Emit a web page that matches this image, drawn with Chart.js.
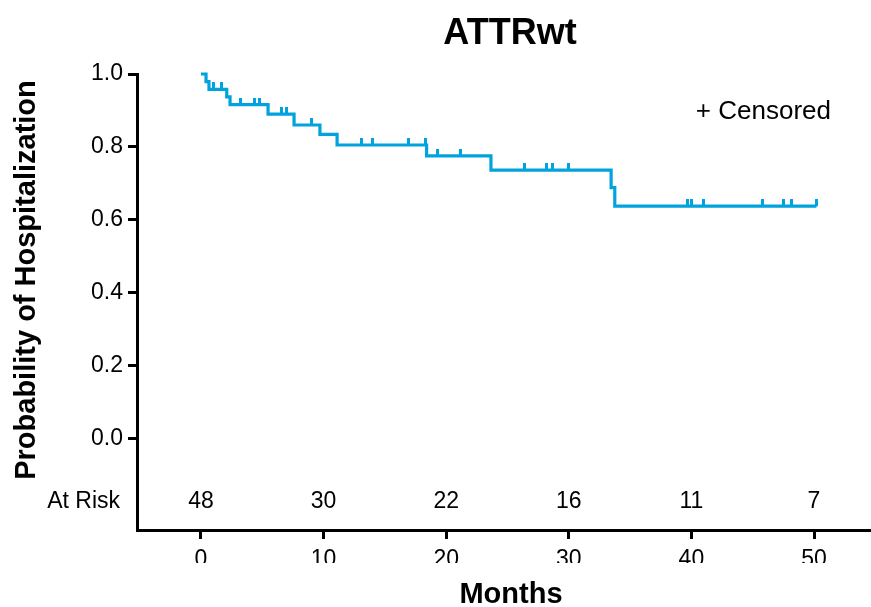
<!DOCTYPE html>
<html>
<head>
<meta charset="utf-8">
<script src="https://cdn.jsdelivr.net/npm/chart.js@4/dist/chart.umd.min.js"></script>
<style>
html,body{margin:0;padding:0;background:#fff;}
#wrap{width:871px;height:607px;position:relative;}
</style>
</head>
<body>
<div id="wrap"><canvas id="c" width="871" height="607"></canvas></div>
<script>
// ---- Data ----
const chartTitle     = 'ATTRwt';
const xAxisTitle     = 'Months';
const yAxisTitle     = 'Probability of Hospitalization';
const eventTimes     = [0, 0.41, 0.65, 2.1, 2.37, 5.47, 7.59, 9.7, 11.1, 18.4, 23.65, 33.45, 33.75];
const survivalValues = [1.0, 0.979, 0.958, 0.937, 0.916, 0.89, 0.86, 0.834, 0.805, 0.775, 0.736, 0.688, 0.637];
const followUpEnd    = 50.2;
const censorTimes    = [1.06, 1.7, 3.26, 4.4, 4.8, 6.6, 7.0, 9.05, 13.1, 14.0, 16.9, 18.3, 19.3, 21.2,
                        26.4, 28.2, 28.7, 30.0, 39.7, 40.0, 41.0, 45.8, 47.5, 48.2, 50.2];
const atRiskTimes    = [0, 10, 20, 30, 40, 50];
const atRiskCounts   = [48, 30, 22, 16, 11, 7];
const xTickValues    = [0, 10, 20, 30, 40, 50];
const yTickValues    = [0.0, 0.2, 0.4, 0.6, 0.8, 1.0];

// ---- Derived ----
function survivalAt(t){
  let s = survivalValues[0];
  for (let i = 0; i < eventTimes.length; i++) if (eventTimes[i] <= t) s = survivalValues[i];
  return s;
}
const kmPoints = eventTimes.map((t,i)=>({x:t, y:survivalValues[i]}));
kmPoints.push({x:followUpEnd, y:survivalAt(followUpEnd)});
const censorPoints = censorTimes.map(t=>({x:t, y:survivalAt(t)}));

const LINE_COLOR = '#00a3de';
const FONT = "'Liberation Sans', Arial, Helvetica, sans-serif";

// censor tick: vertical mark rising above the line
const tick = document.createElement('canvas');
tick.width = 3; tick.height = 14;
(function(){ const g = tick.getContext('2d'); g.fillStyle = LINE_COLOR; g.fillRect(0,0,3,7); })();

const extras = {
  id: 'extras',
  afterDatasetsDraw(chart){
    const {ctx, scales:{x, y}} = chart;
    ctx.save();
    ctx.fillStyle = '#000';
    ctx.textBaseline = 'middle';
    // title
    ctx.font = "bold 36px " + FONT;
    ctx.textAlign = 'center';
    ctx.fillText(chartTitle, 510, 34);
    // axis titles
    ctx.font = "bold 29px " + FONT;
    ctx.fillText(xAxisTitle, 511, 595);
    ctx.save();
    ctx.translate(27, 280);
    ctx.rotate(-Math.PI/2);
    ctx.fillText(yAxisTitle, 0, 0);
    ctx.restore();
    // at-risk row
    ctx.font = "23px " + FONT;
    const rowY = y.getPixelForValue(-0.175);
    atRiskTimes.forEach((t,i)=>ctx.fillText(String(atRiskCounts[i]), x.getPixelForValue(t), rowY));
    ctx.textAlign = 'right';
    ctx.fillText('At Risk', x.left - 17, rowY);
    // censored key
    ctx.font = "26px " + FONT;
    ctx.fillText('+ Censored', 831, y.getPixelForValue(0.895));
    // axis line continues to the right edge of the picture
    const ay = Math.round(x.top - 1.5) + 1.5;
    ctx.strokeStyle = '#000';
    ctx.lineWidth = 3;
    ctx.beginPath();
    ctx.moveTo(x.right - 2, ay);
    ctx.lineTo(chart.width, ay);
    ctx.stroke();
    ctx.restore();
  },
  afterDraw(chart){
    const {ctx} = chart;
    ctx.save();
    ctx.fillStyle = '#fff';
    ctx.fillRect(130, 563, 741, 10);
    ctx.restore();
  }
};

new Chart(document.getElementById('c'), {
  type: 'scatter',
  data: {
    datasets: [
      {
        data: kmPoints, showLine: true, stepped: true,
        borderColor: LINE_COLOR, borderWidth: 3.2, pointRadius: 0,
        fill: false, clip: false, borderCapStyle: 'butt', borderJoinStyle: 'miter'
      },
      {
        data: censorPoints, showLine: false,
        pointStyle: tick, pointRadius: 3, clip: false,
        backgroundColor: LINE_COLOR, borderColor: LINE_COLOR
      }
    ]
  },
  options: {
    responsive: false,
    animation: false,
    layout: { padding: { top: 74, right: 0, left: 0, bottom: 0 } },
    plugins: {
      legend: { display: false },
      tooltip: { enabled: false },
      title: { display: false }
    },
    scales: {
      x: {
        type: 'linear', min: -5.22, max: 54.24,
        afterBuildTicks: s => { s.ticks = xTickValues.map(v=>({value:v})); },
        afterFit: s => { s.height = 77; },
        border: { display: true, color: '#000', width: 3 },
        grid: { display: true, drawOnChartArea: false, drawTicks: true, tickLength: 9, tickWidth: 3, tickColor: '#000' },
        ticks: { color: '#000', font: { family: FONT, size: 23 }, padding: 7, maxRotation: 0 },
        title: { display: false }
      },
      y: {
        type: 'linear', min: -0.252, max: 1.0,
        afterBuildTicks: s => { s.ticks = yTickValues.map(v=>({value:v})); },
        afterFit: s => { s.width = 137; },
        border: { display: true, color: '#000', width: 3 },
        grid: { display: true, drawOnChartArea: false, drawTicks: true, tickLength: 9, tickWidth: 3, tickColor: '#000' },
        ticks: { color: '#000', font: { family: FONT, size: 23 }, padding: 5,
                 callback: v => Number(v).toFixed(1) },
        title: { display: false }
      }
    }
  },
  plugins: [extras]
});
</script>
</body>
</html>
